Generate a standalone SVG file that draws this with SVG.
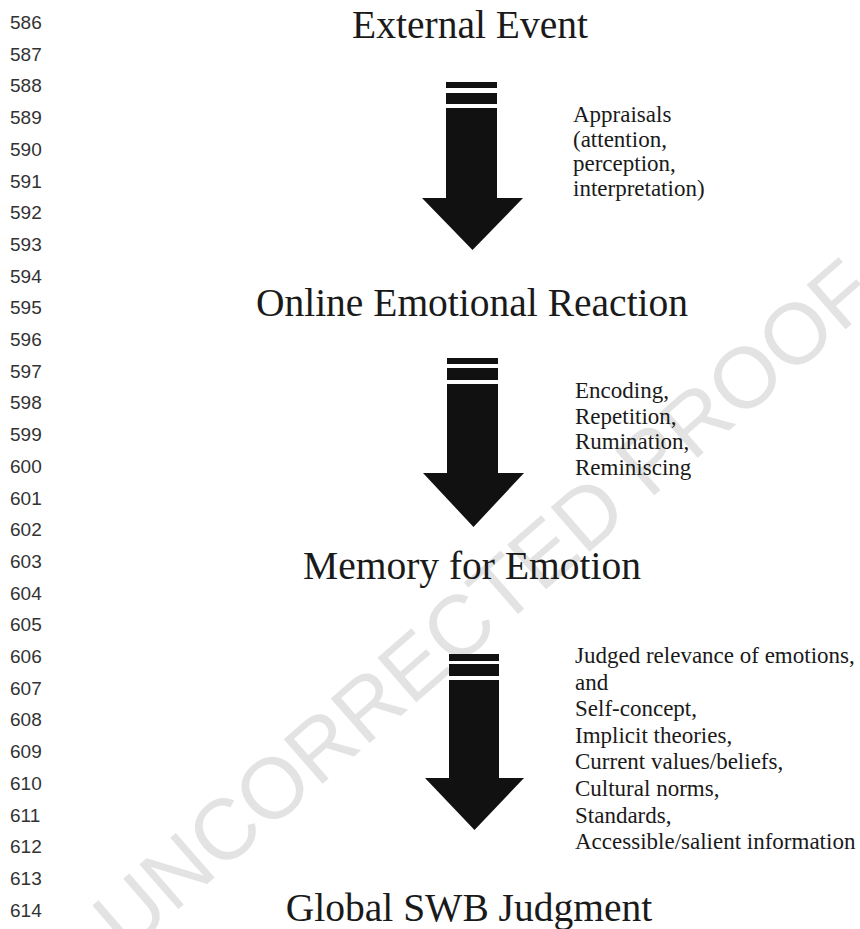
<svg xmlns="http://www.w3.org/2000/svg" width="860" height="929" viewBox="0 0 860 929">
  <style>
    .ln { font-family: "Liberation Sans", Arial, sans-serif; font-size: 19px; fill: #333333; }
    .title { font-family: "Liberation Serif", "Times New Roman", serif; font-size: 39.5px; fill: #1a1a1a; text-anchor: middle; }
    .lab { font-family: "Liberation Serif", "Times New Roman", serif; font-size: 23px; fill: #1a1a1a; }
    .arrow { fill: #111111; }
    .wm { font-family: "Liberation Sans", Arial, sans-serif; font-size: 86px; fill: #e3e3e3; text-anchor: middle; }
  </style>
  <rect width="860" height="929" fill="#ffffff"/>

  <g id="watermark">
    <text class="wm" transform="translate(503,627) rotate(-41)">UNCORRECTED PROOF</text>
  </g>

  <g id="line-numbers">
    <text class="ln" x="10" y="29">586</text>
    <text class="ln" x="10" y="60.7">587</text>
    <text class="ln" x="10" y="92.4">588</text>
    <text class="ln" x="10" y="124.1">589</text>
    <text class="ln" x="10" y="155.8">590</text>
    <text class="ln" x="10" y="187.5">591</text>
    <text class="ln" x="10" y="219.2">592</text>
    <text class="ln" x="10" y="250.9">593</text>
    <text class="ln" x="10" y="282.6">594</text>
    <text class="ln" x="10" y="314.3">595</text>
    <text class="ln" x="10" y="346">596</text>
    <text class="ln" x="10" y="377.7">597</text>
    <text class="ln" x="10" y="409.4">598</text>
    <text class="ln" x="10" y="441.1">599</text>
    <text class="ln" x="10" y="472.8">600</text>
    <text class="ln" x="10" y="504.5">601</text>
    <text class="ln" x="10" y="536.2">602</text>
    <text class="ln" x="10" y="567.9">603</text>
    <text class="ln" x="10" y="599.6">604</text>
    <text class="ln" x="10" y="631.3">605</text>
    <text class="ln" x="10" y="663">606</text>
    <text class="ln" x="10" y="694.7">607</text>
    <text class="ln" x="10" y="726.4">608</text>
    <text class="ln" x="10" y="758.1">609</text>
    <text class="ln" x="10" y="789.8">610</text>
    <text class="ln" x="10" y="821.5">611</text>
    <text class="ln" x="10" y="853.2">612</text>
    <text class="ln" x="10" y="884.9">613</text>
    <text class="ln" x="10" y="916.6">614</text>
  </g>

  <g id="node-external-event">
    <text class="title" x="470" y="38">External Event</text>
  </g>
  <g id="node-online-emotional-reaction">
    <text class="title" x="472" y="316">Online Emotional Reaction</text>
  </g>
  <g id="node-memory-for-emotion">
    <text class="title" x="472" y="579">Memory for Emotion</text>
  </g>
  <g id="node-global-swb-judgment">
    <text class="title" x="469" y="921">Global SWB Judgment</text>
  </g>

  <g id="connectors">
    <g id="arrow-1">
      <rect class="arrow" x="446" y="82" width="51" height="6"/>
      <rect class="arrow" x="446" y="93" width="51" height="11"/>
      <path class="arrow" d="M446,108 H497 V198 H523 L472.5,250 L422,198 H446 Z"/>
      <text class="lab"><tspan x="573" y="122">Appraisals</tspan><tspan x="573" y="146.7">(attention,</tspan><tspan x="573" y="171.4">perception,</tspan><tspan x="573" y="196.1">interpretation)</tspan></text>
    </g>
    <g id="arrow-2">
      <rect class="arrow" x="447" y="358" width="51" height="6"/>
      <rect class="arrow" x="447" y="368" width="51" height="12"/>
      <path class="arrow" d="M447,384 H498 V473 H524 L473.5,527 L423,473 H447 Z"/>
      <text class="lab"><tspan x="575" y="398">Encoding,</tspan><tspan x="575" y="423.7">Repetition,</tspan><tspan x="575" y="449.4">Rumination,</tspan><tspan x="575" y="475.1">Reminiscing</tspan></text>
    </g>
    <g id="arrow-3">
      <rect class="arrow" x="449" y="654" width="50" height="7"/>
      <rect class="arrow" x="449" y="664" width="50" height="12"/>
      <path class="arrow" d="M449,680 H499 V778 H524 L474.5,830 L425,778 H449 Z"/>
      <text class="lab"><tspan x="575" y="663">Judged relevance of emotions,</tspan><tspan x="575" y="689.6">and</tspan><tspan x="575" y="716.2">Self-concept,</tspan><tspan x="575" y="742.8">Implicit theories,</tspan><tspan x="575" y="769.4">Current values/beliefs,</tspan><tspan x="575" y="796">Cultural norms,</tspan><tspan x="575" y="822.6">Standards,</tspan><tspan x="575" y="849.2">Accessible/salient information</tspan></text>
    </g>
  </g>
</svg>
